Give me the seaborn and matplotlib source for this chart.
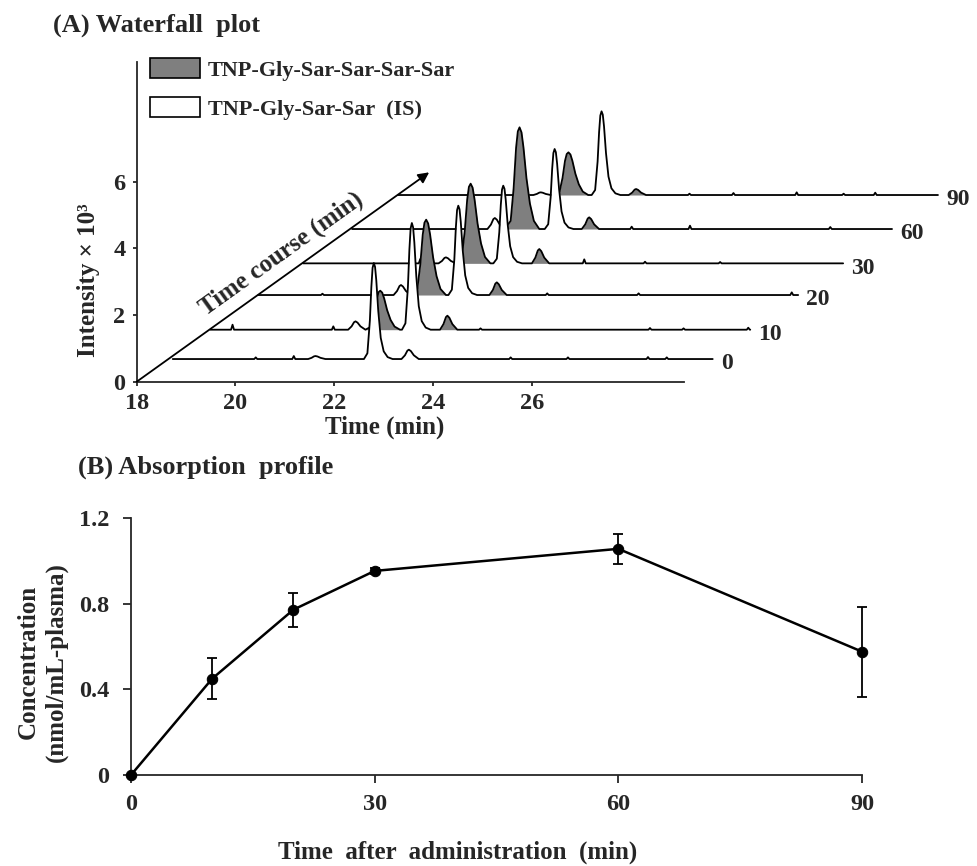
import numpy as np
import pandas as pd
import matplotlib.pyplot as plt
import seaborn as sns
from matplotlib.patches import Patch

# ---- (A) waterfall data: one chromatogram per sampling time ----
TRACE_LABELS = ['0', '10', '20', '30', '60', '90']
TRACE_X_SHIFT = [0.73, 1.49, 2.46, 3.37, 4.36, 5.29]   # min
TRACE_Y_SHIFT = [0.68, 1.56, 2.60, 3.55, 4.58, 5.60]   # x10^3
TRACE_START = 18.0
TRACE_END = 28.93

# TNP-Gly-Sar-Sar-Sar-Sar (gray)
ANALYTE_RT = [None, 21.44, 21.40, 21.39, 21.39, 21.45]
ANALYTE_H = [0.0, 1.17, 2.26, 2.39, 3.05, 1.28]
# TNP-Gly-Sar-Sar (IS, white)
IS_RT = [22.07, 22.08, 22.05, 22.05, 22.10, 22.12]
IS_H = [2.88, 3.20, 2.68, 2.33, 2.40, 2.51]
# small later peak (gray except blank)
MINOR_RT = [22.78, 22.80, 22.83, 22.78, 22.80, 22.82]
MINOR_H = [0.28, 0.42, 0.38, 0.43, 0.35, 0.18]
# small earlier bump
PRE_RT = [20.89, 20.94, 20.89, 20.89, 20.89, 20.89]
PRE_H = [0.09, 0.25, 0.30, 0.18, 0.33, 0.08]
# baseline spikes
NOISE_T = [[19.68, 20.45, 24.84, 26.00, 27.62, 28.00],
           [18.45, 20.49, 23.47, 26.90, 27.58, 28.89],
           [19.30, 23.85, 25.70, 28.80],
           [20.37, 23.69, 24.92, 26.44],
           [23.66, 24.84, 27.68],
           [23.90, 24.79, 26.07, 27.02, 27.66]]
NOISE_H = [[0.05, 0.09, 0.05, 0.05, 0.06, 0.05],
           [0.15, 0.10, 0.04, 0.05, 0.04, 0.06],
           [0.04, 0.05, 0.05, 0.08],
           [0.13, 0.12, 0.05, 0.04],
           [0.07, 0.10, 0.06],
           [0.04, 0.06, 0.08, 0.04, 0.07]]

# peak outlines (time offset, fraction of height)
IS_DT = [-0.20, -0.13, -0.08, -0.05, -0.025, 0.0, 0.025, 0.05, 0.09, 0.14, 0.20, 0.28, 0.38]
IS_REL = [0.0, 0.06, 0.4, 0.75, 0.95, 1.0, 0.96, 0.82, 0.5, 0.22, 0.08, 0.02, 0.0]
AN_DT = [-0.30, -0.18, -0.12, -0.07, -0.035, 0.0, 0.04, 0.08, 0.14, 0.21, 0.29, 0.40]
AN_REL = [0.0, 0.08, 0.4, 0.8, 0.96, 1.0, 0.95, 0.8, 0.5, 0.25, 0.08, 0.0]
BUMP_DT = [-0.15, -0.08, -0.03, 0.0, 0.04, 0.10, 0.20]
BUMP_REL = [0.0, 0.4, 0.9, 1.0, 0.85, 0.4, 0.0]
SPIKE_DT = [-0.03, 0.0, 0.03]
SPIKE_REL = [0.0, 1.0, 0.0]

# ---- (B) absorption profile ----
time_min = [0, 10, 20, 30, 60, 90]
conc = [0.0, 0.45, 0.772, 0.953, 1.056, 0.576]
conc_sd = [0.0, 0.097, 0.079, 0.015, 0.069, 0.21]

GRAY = '#7f7f7f'


def peak(rt, h, dts, rels):
    return [(rt + d, h * r) for d, r in zip(dts, rels)]


def build_trace(k):
    pts = [(TRACE_START, 0.0), (TRACE_END, 0.0)]
    if ANALYTE_RT[k] is not None:
        pts += peak(ANALYTE_RT[k], ANALYTE_H[k], AN_DT, AN_REL)
    pts += peak(IS_RT[k], IS_H[k], IS_DT, IS_REL)
    pts += peak(MINOR_RT[k], MINOR_H[k], BUMP_DT, BUMP_REL)
    pts += peak(PRE_RT[k], PRE_H[k], BUMP_DT, BUMP_REL)
    for t, h in zip(NOISE_T[k], NOISE_H[k]):
        pts += peak(t, h, SPIKE_DT, SPIKE_REL)
    pts.sort()
    t = np.array([p[0] for p in pts])
    i = np.array([p[1] for p in pts])
    return t, i


sns.set_style('ticks')
plt.rcParams['font.family'] = ['Liberation Serif', 'DejaVu Serif']
plt.rcParams['font.weight'] = 'bold'
plt.rcParams['axes.labelweight'] = 'bold'
plt.rcParams['axes.linewidth'] = 1.3

fig = plt.figure(figsize=(9.78, 8.66), dpi=100)
W, H = 978.0, 866.0

# ================= (A) =================
ax = fig.add_axes([136.7 / W, 1 - 381.7 / H, (960 - 136.7) / W, (381.7 - 62) / H])
ax.set_xlim(18, 18 + (960 - 136.7) / 49.4)
ax.set_ylim(0, 9.59)

n = len(TRACE_LABELS)
for k in range(n - 1, -1, -1):
    t, i = build_trace(k)
    x = t + TRACE_X_SHIFT[k]
    base = TRACE_Y_SHIFT[k]
    y = i + base
    z = 2 + (n - k) * 0.5
    ax.fill_between(x, base, y, color='white', lw=0, zorder=z)
    gray_ranges = [(MINOR_RT[k] - 0.15, MINOR_RT[k] + 0.20)] if k > 0 else []
    if ANALYTE_RT[k] is not None:
        gray_ranges.append((ANALYTE_RT[k] - 0.30, ANALYTE_RT[k] + 0.40))
    for lo, hi in gray_ranges:
        m = (t >= lo - 1e-9) & (t <= hi + 1e-9)
        ax.fill_between(x, base, y, where=m, color=GRAY, lw=0, zorder=z + 0.1)
    sns.lineplot(x=x, y=y, sort=False, estimator=None, color='black', lw=1.3,
                 ax=ax, zorder=z + 0.2, legend=False)
    ax.annotate(TRACE_LABELS[k], xy=(TRACE_END + TRACE_X_SHIFT[k], base),
                xytext=(6, -3.5), textcoords='offset points', ha='left', va='center',
                fontsize=17, fontweight='bold', annotation_clip=False)

# time-course arrow
ax.annotate('', xy=(23.92, 6.28), xytext=(18, 0),
            arrowprops=dict(arrowstyle='-|>', color='black', lw=1.3,
                            mutation_scale=16, shrinkA=0, shrinkB=0), zorder=10)
ax.text(20.92, 3.83, 'Time course (min)', rotation=35.6, rotation_mode='anchor',
        ha='center', va='center', fontsize=18, fontweight='bold')

ax.set_xticks([18, 20, 22, 24, 26])
ax.set_xticklabels(['18', '20', '22', '24', '26'])
ax.set_yticks([0, 2, 4, 6])
ax.set_yticklabels(['0', '2', '4', '6'])
ax.tick_params(direction='out', length=3, width=1.3, labelsize=17.5)
ax.tick_params(axis='x', pad=5)
ax.tick_params(axis='y', pad=5)
for s in ['top', 'right']:
    ax.spines[s].set_visible(False)
ax.spines['bottom'].set_bounds(18, 29.07)
ax.spines['left'].set_bounds(0, 9.59)
ax.set_xlabel('Time (min)', fontsize=18)
ax.xaxis.set_label_coords(0.3016, -0.105)
ax.set_ylabel('Intensity × 10³', fontsize=18)
ax.yaxis.set_label_coords(-0.045, 0.318)

handles = [Patch(facecolor=GRAY, edgecolor='black', lw=1.2),
           Patch(facecolor='white', edgecolor='black', lw=1.2)]
ax.legend(handles, ['TNP-Gly-Sar-Sar-Sar-Sar', 'TNP-Gly-Sar-Sar  (IS)'],
          loc='upper left', bbox_to_anchor=(150 / W, 1 - 58 / H),
          bbox_transform=fig.transFigure, frameon=False, fontsize=16,
          borderpad=0, borderaxespad=0, handlelength=2.25, handleheight=1.0,
          handletextpad=0.35, labelspacing=0.75)

fig.text(53 / W, 1 - 25 / H, '(A) Waterfall  plot', fontsize=19, fontweight='bold',
         ha='left', va='center')

# ================= (B) =================
ax2 = fig.add_axes([131 / W, 1 - 775 / H, 731 / W, 257 / H])
df = pd.DataFrame({'time': time_min, 'conc': conc, 'sd': conc_sd})
sns.lineplot(data=df, x='time', y='conc', color='black', lw=1.8, marker='o',
             markersize=7.5, markeredgecolor='black', ax=ax2, clip_on=False, zorder=3)
ax2.errorbar(df['time'][1:], df['conc'][1:], yerr=df['sd'][1:], fmt='none',
             ecolor='black', elinewidth=1.3, capsize=3.5, capthick=1.3,
             clip_on=False, zorder=2)
ax2.set_xlim(0, 90)
ax2.set_ylim(0, 1.2)
ax2.set_xticks([0, 30, 60, 90])
ax2.set_xticklabels(['0', '30', '60', '90'])
ax2.set_yticks([0, 0.4, 0.8, 1.2])
ax2.set_yticklabels(['0', '0.4', '0.8', '1.2'])
ax2.tick_params(direction='out', length=5.5, width=1.3, labelsize=17.5)
ax2.tick_params(axis='x', pad=8)
ax2.tick_params(axis='y', pad=10)
for s in ['top', 'right']:
    ax2.spines[s].set_visible(False)
ax2.set_xlabel('Time  after  administration  (min)', fontsize=18)
ax2.xaxis.set_label_coords(0.447, -0.255)
ax2.set_ylabel('Concentration\n(nmol/mL-plasma)', fontsize=18, linespacing=1.3)
ax2.yaxis.set_label_coords(-0.086, 0.44)

fig.text(78 / W, 1 - 467 / H, '(B) Absorption  profile', fontsize=19, fontweight='bold',
         ha='left', va='center')

fig.savefig('out.png', dpi=100)
